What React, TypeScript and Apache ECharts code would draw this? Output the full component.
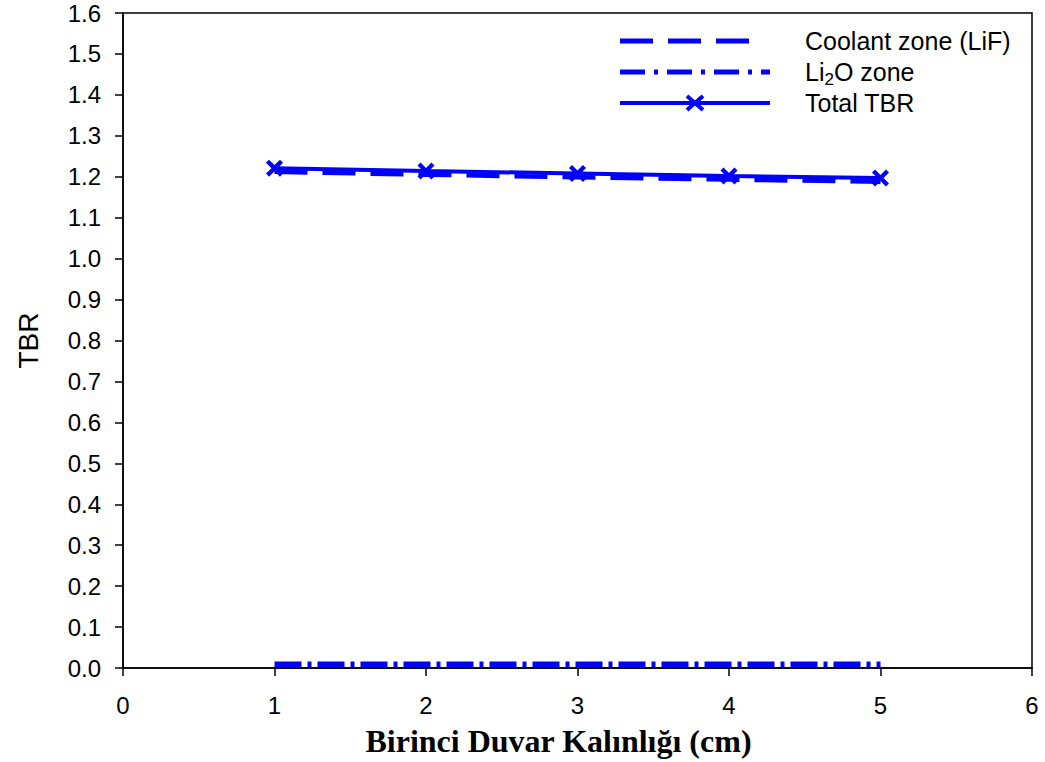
import React, { useEffect, useRef } from "react";
import * as echarts from "echarts";

// First-wall thickness (cm)
const thickness = [1, 2, 3, 4, 5];
// Tritium breeding ratio contributions
const coolantLiF = [1.212, 1.205, 1.199, 1.193, 1.188];
const li2oZone = [0.009, 0.009, 0.009, 0.009, 0.009];
const totalTBR = [1.221, 1.214, 1.208, 1.202, 1.197];

const legendNames = ["Coolant zone (LiF)", "Li2O zone", "Total TBR"];
const BLUE = "#0000ff";

// Filled "X" marker
const t = 2.5;
const X_MARK = `path://M0,${t} L${t},0 L7,${7 - t} L${14 - t},0 L14,${t} L${7 + t},7 L14,${14 - t} L${14 - t},14 L7,${7 + t} L${t},14 L0,${14 - t} L${7 - t},7 Z`;

const pairs = (ys: number[]) => thickness.map((x, i) => [x, ys[i]]);

export default function App() {
  const ref = useRef<HTMLDivElement>(null);

  useEffect(() => {
    if (!ref.current) return;
    const chart = echarts.init(ref.current, null, { renderer: "svg" });
    const font = "Arial, 'Liberation Sans', sans-serif";
    const legendX = 620;
    const legendText = 805;
    const rows = [41, 72, 103];
    const legendFont = 25;
    const subFont = 17;
    // widths of "Li" and the subscript "2" in Arial metrics
    const liWidth = 0.778 * legendFont;
    const subWidth = 0.556 * subFont;

    const legendLabel = (text: string, x: number, y: number, size = legendFont) => ({
      type: "text",
      x,
      y,
      style: { text, fontFamily: font, fontSize: size, fill: "#000", verticalAlign: "middle" },
    });

    chart.setOption({
      animation: false,
      backgroundColor: "#fff",
      grid: {
        left: 123,
        top: 13,
        right: 13,
        bottom: 94,
        containLabel: false,
        outerBoundsMode: "none",
        show: true,
        borderColor: "#000",
        borderWidth: 1.5,
        backgroundColor: "transparent",
      },
      xAxis: {
        type: "value",
        min: 0,
        max: 6,
        interval: 1,
        name: "Birinci Duvar Kalınlığı (cm)",
        nameLocation: "middle",
        nameGap: 57,
        nameTextStyle: {
          fontFamily: "'Liberation Serif', 'Times New Roman', serif",
          fontWeight: "bold",
          fontSize: 32,
          color: "#000",
          padding: [0, 38, 0, 0],
        },
        axisLine: { show: true, onZero: false, lineStyle: { color: "#000", width: 1.5 } },
        axisTick: { show: true, inside: false, length: 8, lineStyle: { color: "#000", width: 1.5 } },
        axisLabel: { fontFamily: font, fontSize: 24, color: "#000", margin: 25 },
        splitLine: { show: false },
      },
      yAxis: {
        type: "value",
        min: 0,
        max: 1.6,
        interval: 0.1,
        name: "TBR",
        nameLocation: "middle",
        nameGap: 81,
        nameRotate: 90,
        nameTextStyle: { fontFamily: font, fontSize: 28, color: "#000" },
        axisLine: { show: true, onZero: false, lineStyle: { color: "#000", width: 1.5 } },
        axisTick: { show: true, inside: false, length: 8, lineStyle: { color: "#000", width: 1.5 } },
        axisLabel: {
          fontFamily: font,
          fontSize: 24,
          color: "#000",
          margin: 22,
          formatter: (v: number) => v.toFixed(1),
        },
        splitLine: { show: false },
      },
      series: [
        {
          name: legendNames[1],
          type: "line",
          data: pairs(li2oZone),
          showSymbol: false,
          lineStyle: { color: BLUE, width: 5.5, type: [27, 6, 4, 6], cap: "butt" },
          z: 2,
        },
        {
          name: legendNames[0],
          type: "line",
          data: pairs(coolantLiF),
          showSymbol: false,
          lineStyle: { color: BLUE, width: 4.5, type: [33, 15], cap: "butt" },
          z: 3,
        },
        {
          name: legendNames[2],
          type: "line",
          data: pairs(totalTBR),
          symbol: X_MARK,
          symbolSize: 17,
          showSymbol: true,
          itemStyle: { color: BLUE },
          lineStyle: { color: BLUE, width: 4 },
          z: 4,
        },
      ],
      graphic: [
        {
          type: "line",
          shape: { x1: legendX, y1: rows[0], x2: 755, y2: rows[0] },
          style: { stroke: BLUE, lineWidth: 5, lineDash: [33, 15] },
        },
        {
          type: "line",
          shape: { x1: legendX, y1: rows[1], x2: 770, y2: rows[1] },
          style: { stroke: BLUE, lineWidth: 5, lineDash: [25, 9, 4, 9] },
        },
        {
          type: "line",
          shape: { x1: legendX, y1: rows[2], x2: 770, y2: rows[2] },
          style: { stroke: BLUE, lineWidth: 4 },
        },
        {
          type: "line",
          shape: { x1: 687, y1: rows[2] - 7, x2: 703, y2: rows[2] + 7 },
          style: { stroke: BLUE, lineWidth: 4 },
        },
        {
          type: "line",
          shape: { x1: 703, y1: rows[2] - 7, x2: 687, y2: rows[2] + 7 },
          style: { stroke: BLUE, lineWidth: 4 },
        },
        legendLabel(legendNames[0], legendText, rows[0]),
        legendLabel("Li", legendText, rows[1]),
        legendLabel("2", legendText + liWidth, rows[1] + 7, subFont),
        legendLabel("O zone", legendText + liWidth + subWidth, rows[1]),
        legendLabel(legendNames[2], legendText, rows[2]),
      ],
    });

    return () => chart.dispose();
  }, []);

  return (
    <div
      ref={ref}
      style={{ position: "fixed", left: 0, top: 0, width: 1045, height: 762 }}
    />
  );
}
